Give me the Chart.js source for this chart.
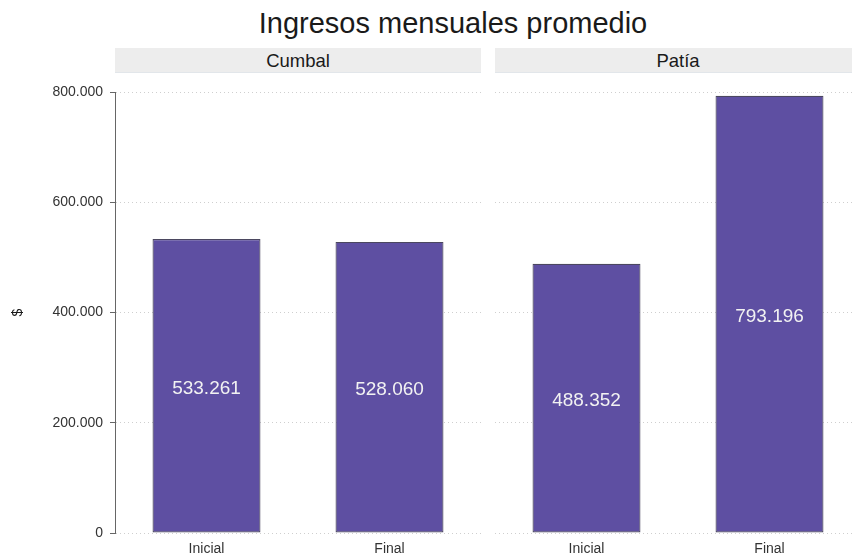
<!DOCTYPE html>
<html>
<head>
<meta charset="utf-8">
<script src="https://cdn.jsdelivr.net/npm/chart.js@4/dist/chart.umd.min.js"></script>
<style>
  html, body { margin: 0; padding: 0; background: #fff; overflow: hidden; }
  body { width: 852px; height: 556px; position: relative; font-family: "Liberation Sans", Arial, sans-serif; }
  #title { position: absolute; top: 9px; left: 453px; transform: translateX(-50%); font-size: 29px; line-height: 29px; color: #1a1a1a; white-space: nowrap; }
  .strip { position: absolute; top: 48px; height: 25px; line-height: 25px; background: #ededed; border-bottom: 1px solid #e2e6ea; box-sizing: border-box; text-align: center; font-size: 18.5px; color: #1a1a1a; }
  canvas { position: absolute; top: 0; }
</style>
</head>
<body>
<div id="title">Ingresos mensuales promedio</div>
<div class="strip" id="strip1" style="left:115px;width:366px;"></div>
<div class="strip" id="strip2" style="left:495px;width:366px;"></div>
<canvas id="left" width="490" height="556" style="left:0"></canvas>
<canvas id="right" width="366" height="556" style="left:495px"></canvas>
<script>
const panels = ['Cumbal', 'Patía'];
const categories = ['Inicial', 'Final'];
const cumbalValues = [533261, 528060];
const patiaValues = [488352, 793196];
const yTicks = [0, 200000, 400000, 600000, 800000];

const barColor = '#5e4fa2';

document.getElementById('strip1').textContent = panels[0];
document.getElementById('strip2').textContent = panels[1];

function fmt(v) {
    return String(Math.round(v)).replace(/\B(?=(\d{3})+(?!\d))/g, '.');
}

// white number in the middle of every bar
const barLabels = {
    id: 'barLabels',
    afterDatasetsDraw(chart) {
        const ctx = chart.ctx;
        const meta = chart.getDatasetMeta(0);
        ctx.save();
        ctx.font = '19px "Liberation Sans", Arial, sans-serif';
        ctx.fillStyle = '#f2f2f2';
        ctx.textAlign = 'center';
        ctx.textBaseline = 'middle';
        meta.data.forEach((bar, i) => {
            const v = chart.data.datasets[0].data[i];
            ctx.fillText(fmt(v), bar.x, (bar.y + bar.base) / 2 + 3);
        });
        ctx.restore();
    }
};

function makePanel(id, values, showY) {
    const ctx = document.getElementById(id).getContext('2d');
    return new Chart(ctx, {
        type: 'bar',
        data: {
            labels: categories,
            datasets: [{
                data: values,
                backgroundColor: barColor,
                borderColor: '#4b4760',
                borderWidth: 1.2,
                borderSkipped: false,
                barPercentage: 0.59,
                categoryPercentage: 1
            }]
        },
        options: {
            responsive: false,
            animation: false,
            devicePixelRatio: 1,
            layout: { padding: { top: 92, right: showY ? 9 : 0, bottom: 0, left: 0 } },
            plugins: { legend: { display: false }, tooltip: { enabled: false } },
            scales: {
                x: {
                    offset: true,
                    grid: { display: false, drawTicks: false },
                    border: { display: false },
                    ticks: {
                        color: '#333',
                        padding: 8,
                        font: { family: '"Liberation Sans", Arial, sans-serif', size: 14 }
                    },
                    afterFit: s => { s.height = 23; }
                },
                y: {
                    min: 0,
                    max: yTicks[yTicks.length - 1],
                    afterBuildTicks: s => { s.ticks = yTicks.map(v => ({ value: v })); },
                    grid: {
                        color: '#cfcfcf',
                        lineWidth: 1,
                        drawTicks: showY,
                        tickLength: 5,
                        tickColor: '#666',
                        tickBorderDash: []
                    },
                    border: { display: showY, color: '#666', width: 1, dash: [1, 3] },
                    ticks: {
                        display: showY,
                        color: '#333',
                        padding: 7,
                        font: { family: '"Liberation Sans", Arial, sans-serif', size: 14 },
                        callback: v => fmt(v)
                    },
                    title: {
                        display: showY,
                        text: '$',
                        color: '#1a1a1a',
                        padding: { top: 10, bottom: 0 },
                        font: { family: '"Liberation Sans", Arial, sans-serif', size: 14 }
                    },
                    afterFit: s => { s.width = showY ? 115 : 0; }
                }
            }
        },
        plugins: [barLabels]
    });
}

makePanel('left', cumbalValues, true);
makePanel('right', patiaValues, false);
</script>
</body>
</html>
